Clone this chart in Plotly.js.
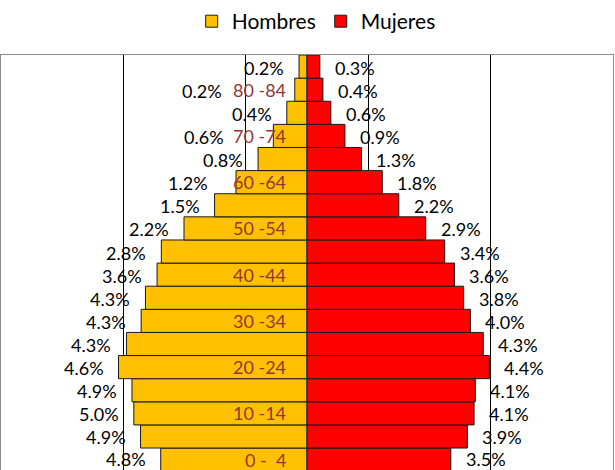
<!DOCTYPE html>
<html>
<head>
<meta charset="utf-8">
<script src="https://cdn.plot.ly/plotly-3.0.1.min.js"></script>
<style>
html, body { margin: 0; padding: 0; background: #ffffff; overflow: hidden; }
#chart { width: 615px; height: 470px; }
</style>
</head>
<body>
<div id="chart"></div>
<script>
// Age groups, bottom to top
const categories = ["0 -\u00a0\u00a04", "5 -\u00a0\u00a09", "10 -14", "15 -19", "20 -24", "25 -29", "30 -34", "35 -39", "40 -44",
  "45 -49", "50 -54", "55 -59", "60 -64", "65 -69", "70 -74", "75 -79", "80 -84", "85 +"];
// Bar lengths (axis units)
const hombres = [2.39, 2.72, 2.83, 2.86, 3.08, 2.95, 2.71, 2.64, 2.45, 2.38, 2.01, 1.51, 1.16, 0.80, 0.55, 0.33, 0.20, 0.13];
const mujeres = [2.35, 2.62, 2.73, 2.75, 2.98, 2.88, 2.67, 2.56, 2.41, 2.25, 1.94, 1.50, 1.23, 0.89, 0.62, 0.39, 0.26, 0.21];
// Data label texts (percent)
const hombresLabels = [4.8, 4.9, 5.0, 4.9, 4.6, 4.3, 4.3, 4.3, 3.6, 2.8, 2.2, 1.5, 1.2, 0.8, 0.6, 0.4, 0.2, 0.2];
const mujeresLabels = [3.5, 3.9, 4.1, 4.1, 4.4, 4.3, 4.0, 3.8, 3.6, 3.4, 2.9, 2.2, 1.8, 1.3, 0.9, 0.6, 0.4, 0.3];
const seriesNames = ["Hombres", "Mujeres"];

// Extra pixel offsets for male labels that move aside for category labels
const hombresLabelExtraShift = [0, 0, 0, 0, 0, 0, 0, 0, 0, 0, 0, 0, 13, 0, 34, 0, 58, 0];

const FONT = "Lato, 'Open Sans', 'Noto Sans', sans-serif";
const colorH = "#FFC000";
const colorM = "#FF0000";
const catColor = "#953735";

const traces = [
  {
    type: "bar", orientation: "h", name: seriesNames[0],
    y: categories, x: hombres.map(v => -v),
    marker: { color: colorH, line: { color: "#1a1a1a", width: 1 } },
    hoverinfo: "skip"
  },
  {
    type: "bar", orientation: "h", name: seriesNames[1],
    y: categories, x: mujeres,
    marker: { color: colorM, line: { color: "#1a1a1a", width: 1 } },
    hoverinfo: "skip"
  }
];

const annotations = [];
categories.forEach((c, i) => {
  const ys = i === 0 ? 1 : -1;
  annotations.push({
    x: -hombres[i], y: c, xref: "x", yref: "y",
    text: hombresLabels[i].toFixed(1) + "%",
    showarrow: false, xanchor: "right", yanchor: "middle",
    xshift: -13 - hombresLabelExtraShift[i], yshift: ys,
    font: { family: FONT, size: 18, color: "#000000" }
  });
  annotations.push({
    x: mujeres[i], y: c, xref: "x", yref: "y",
    text: mujeresLabels[i].toFixed(1) + "%",
    showarrow: false, xanchor: "left", yanchor: "middle",
    xshift: 13, yshift: ys,
    font: { family: FONT, size: 18, color: "#000000" }
  });
  if (i % 2 === 0) {
    annotations.push({
      x: 0, y: c, xref: "x", yref: "y",
      text: c,
      showarrow: false, xanchor: "right", yanchor: "middle",
      xshift: -19,
      font: { family: FONT, size: 18, color: catColor }
    });
  }
});

const layout = {
  width: 615, height: 470,
  margin: { l: 1, r: 2, t: 55, b: 0, pad: 0 },
  paper_bgcolor: "#ffffff", plot_bgcolor: "#ffffff",
  barmode: "relative", bargap: 0,
  font: { family: FONT, size: 18, color: "#000000" },
  showlegend: true,
  legend: {
    orientation: "h", x: 0.515, xanchor: "center", y: 1.13, yanchor: "top",
    font: { family: FONT, size: 21, color: "#000000" },
    traceorder: "normal", itemclick: false, itemdoubleclick: false
  },
  xaxis: {
    range: [-5, 5], tickvals: [-3, -1, 1, 3], showticklabels: false, ticks: "",
    showgrid: true, gridcolor: "#000000", gridwidth: 1, zeroline: false,
    showline: true, mirror: true, linecolor: "#8c8c8c", linewidth: 1, fixedrange: true
  },
  yaxis: {
    type: "category", range: [-0.45, 17.5], showticklabels: false, ticks: "",
    showgrid: false, zeroline: false,
    showline: true, mirror: true, linecolor: "#8c8c8c", linewidth: 1, fixedrange: true
  },
  annotations: annotations
};

Plotly.newPlot("chart", traces, layout, { displayModeBar: false, staticPlot: true });
</script>
</body>
</html>
